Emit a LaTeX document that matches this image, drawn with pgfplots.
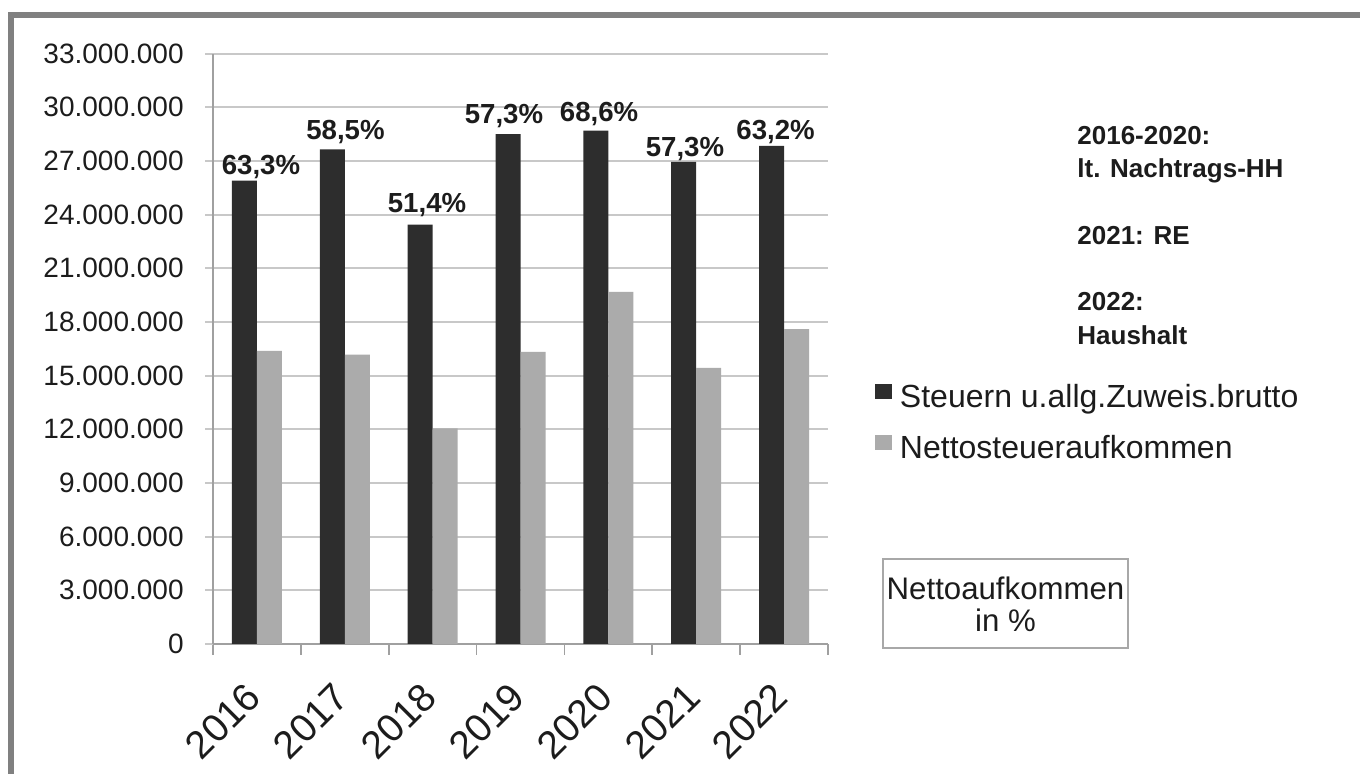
\documentclass[border=0pt]{standalone}
\usepackage{fontspec}
\setmainfont{Liberation Sans}
\usepackage{pgfplots}
\pgfplotsset{compat=1.18}
\usepackage{pgfplotstable}

\definecolor{darkbar}{HTML}{2D2D2D}
\definecolor{lightbar}{HTML}{ABABAB}
\definecolor{gridgray}{HTML}{C8C8C8}
\definecolor{axisgray}{HTML}{A0A0A0}
\definecolor{framegray}{HTML}{808080}
\definecolor{boxgray}{HTML}{A8A8A8}
\definecolor{txt}{HTML}{1C1C1C}

\newcommand\tickfont{\fontsize{14}{16}\selectfont}
\newcommand\yearfont{\fontsize{19.5}{22}\selectfont}
\newcommand\pctfont{\fontsize{13.8}{16}\selectfont\bfseries}
\newcommand\legfont{\fontsize{16}{18}\selectfont}
\newcommand\boxfont{\fontsize{15.6}{18}\selectfont}
\newcommand\notefont{\fontsize{13}{15}\selectfont\bfseries}

\pgfplotstableread{
x dark light lx ly lab
0 25900000 16390000 0.046 26250000 63,3\%
1 27650000 16180000 1.008 28180000 58,5\%
2 23450000 12050000 1.936 24110000 51,4\%
3 28500000 16330000 2.812 29110000 57,3\%
4 28700000 19690000 3.894 29200000 68,6\%
5 26950000 15440000 4.872 27240000 57,3\%
6 27850000 17600000 5.903 28180000 63,2\%
}\datatable

\begin{document}
\begin{tikzpicture}
\path[use as bounding box] (0,0) rectangle (680pt,387pt);
\draw[framegray, line width=3pt] (5.5pt,-2pt) -- (5.5pt,379.5pt) -- (682pt,379.5pt);
\begin{axis}[
  at={(106.5pt,65pt)}, anchor=south west,
  scale only axis, width=307.5pt, height=295.15pt,
  xmin=-0.5, xmax=6.5, ymin=0, ymax=33000000,
  ybar, bar width=12.5pt,
  clip=false,
  axis x line*=bottom, axis y line*=left,
  axis line style={draw=axisgray, line width=0.8pt, -},
  ymajorgrids, major grid style={draw=gridgray, line width=1pt},
  ytick={0,3000000,6000000,9000000,12000000,15000000,18000000,21000000,24000000,27000000,30000000,33000000},
  scaled y ticks=false,
  /pgf/number format/assume math mode=true,
  yticklabel style={/pgf/number format/fixed, /pgf/number format/precision=0, /pgf/number format/1000 sep={.},
    font=\tickfont, text=txt, anchor=east, inner sep=0pt, xshift=-10.5pt},
  xtick={0,1,2,3,4,5,6},
  xticklabels={2016,2017,2018,2019,2020,2021,2022},
  xticklabel style={font=\yearfont, text=txt, rotate=45, anchor=east, inner sep=0pt, xshift=-14.5pt, yshift=-12.4pt},
  major x tick style={draw=none},
  minor xtick={-0.5,0.5,1.5,2.5,3.5,4.5,5.5,6.5},
  minor x tick style={draw=axisgray, line width=0.8pt},
  y tick style={draw=gridgray, line width=1pt},
  tick align=outside,
  major tick length=4pt, minor tick length=5.5pt,
  legend style={draw=none, fill=none, inner sep=0pt, outer sep=0pt,
    at={(axis description cs:1.0764,0.4405)}, anchor=north west,
    font=\legfont, text=txt, row sep=10.5pt, column sep=4pt,
    nodes={inner sep=0pt, text height=11pt, text depth=3.5pt}},
  legend cell align=left,
]
\addplot[fill=darkbar, draw=none, bar shift=-6.25pt,
  legend image code/.code={\fill[darkbar] (0pt,0.5pt) rectangle (8.5pt,8pt);}]
  table[x=x, y=dark]{\datatable};
\addlegendentry{Steuern u.allg.Zuweis.brutto}
\addplot[fill=lightbar, draw=none, bar shift=6.25pt,
  legend image code/.code={\fill[lightbar] (0pt,0.5pt) rectangle (8.5pt,8pt);}]
  table[x=x, y=light]{\datatable};
\addlegendentry{Nettosteueraufkommen}
\addplot[draw=none, fill=none, bar shift=0pt, bar width=0pt, forget plot,
  nodes near coords, point meta=explicit symbolic,
  nodes near coords style={font=\pctfont, text=txt, anchor=base, inner sep=0pt}]
  table[x=lx, y=ly, meta=lab]{\datatable};
\end{axis}
\node[anchor=base west, font=\notefont, text=txt, inner sep=0pt] at (538.5pt,314.5pt) {2016-2020:};
\node[anchor=base west, font=\notefont, text=txt, inner sep=0pt] at (538.5pt,298pt) {lt. Nachtrags-HH};
\node[anchor=base west, font=\notefont, text=txt, inner sep=0pt] at (538.5pt,264.5pt) {2021: RE};
\node[anchor=base west, font=\notefont, text=txt, inner sep=0pt] at (538.5pt,231.5pt) {2022:};
\node[anchor=base west, font=\notefont, text=txt, inner sep=0pt] at (538.5pt,214.5pt) {Haushalt};
\draw[boxgray, line width=1pt] (441.5pt,63pt) rectangle (564pt,107.5pt);
\node[anchor=base, font=\boxfont, text=txt, inner sep=0pt] at (502.75pt,87pt) {Nettoaufkommen};
\node[anchor=base, font=\boxfont, text=txt, inner sep=0pt] at (502.75pt,71pt) {in \%};
\end{tikzpicture}
\end{document}
